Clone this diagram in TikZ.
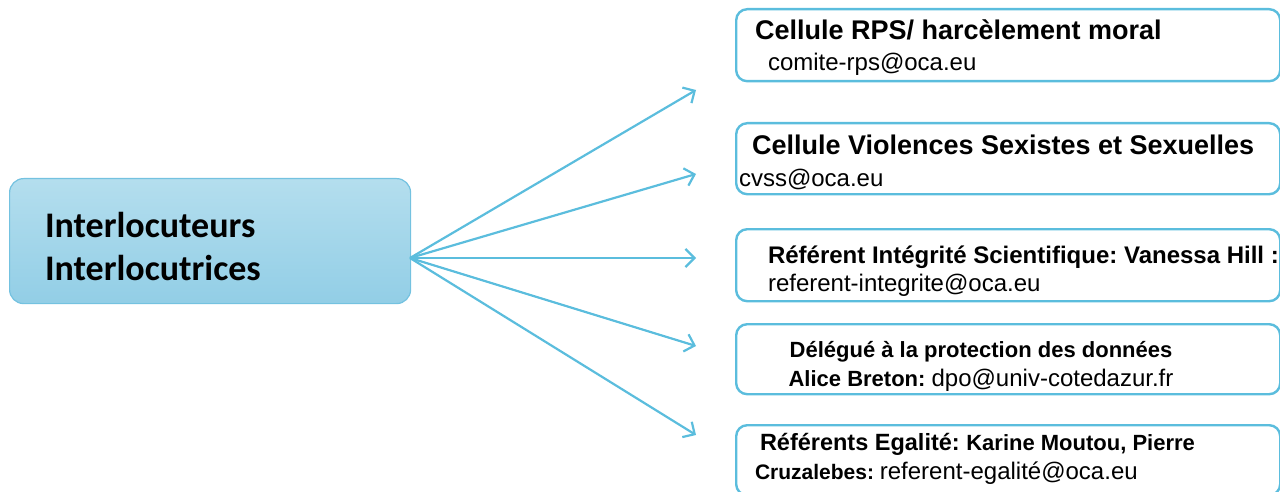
\documentclass[tikz,border=0pt]{standalone}
\usepackage{fontspec}
\setmainfont{Liberation Sans}
\newfontfamily\carlito{Carlito}
\usetikzlibrary{arrows.meta}
\definecolor{lineblue}{HTML}{5BBDDD}
\definecolor{boxtop}{HTML}{B4DEEE}
\definecolor{boxbot}{HTML}{92CEE6}
\definecolor{boxedge}{HTML}{74C2E0}
\newcommand{\fs}[1]{\fontsize{#1}{#1}\selectfont}
\frenchspacing
\tikzset{
  mainbox/.style={draw=boxedge, line width=1.2pt, rounded corners=14pt, top color=boxtop, bottom color=boxbot, anchor=north west, inner sep=0pt},
  rbox/.style={draw=lineblue, line width=2.4pt, rounded corners=11pt, anchor=north west, inner sep=0pt, minimum width=544pt},
  txt/.style={anchor=base west, inner sep=0pt, outer sep=0pt},
  ctxt/.style={anchor=base, inner sep=0pt, outer sep=0pt},
  conn/.style={draw=lineblue, line width=2.2pt, -{Straight Barb[length=9pt,width=18pt,line width=2.2pt]}}
}
\begin{document}
\begin{tikzpicture}[x=1pt,y=-1pt]
\useasboundingbox (0,0) rectangle (1280,492);
\clip (0,0) rectangle (1280,492);
% main box
\node[mainbox, minimum width=401pt, minimum height=125pt] (main) at (9,178) {};
\node[txt, font=\carlito\bfseries\fs{36}] (m1) at (45,237) {Interlocuteurs};
\node[txt, font=\carlito\bfseries\fs{36}] (m2) at (45,280) {Interlocutrices};
% right boxes
\node[rbox, minimum height=72pt] (b1) at (735,8) {};
\node[rbox, minimum height=71pt] (b2) at (735,122) {};
\node[rbox, minimum height=72pt] (b3) at (735,228) {};
\node[rbox, minimum height=70pt] (b4) at (735,323) {};
\node[rbox, minimum height=70pt] (b5) at (735,424) {};
% texts
\node[txt, font=\bfseries\fs{27}] (t1a) at (755,40) {Cellule RPS/ harcèlement moral};
\node[txt, font=\fs{24}] (t1b) at (768,71) {comite-rps@oca.eu};
\node[txt, font=\bfseries\fs{27}] (t2a) at (752,155) {Cellule Violences Sexistes et Sexuelles};
\node[txt, font=\fs{24}] (t2b) at (739,186) {cvss@oca.eu};
\node[txt, font=\bfseries\fs{24}] (t3a) at (768,263) {Référent Intégrité Scientifique: Vanessa Hill :};
\node[txt, font=\fs{24}] (t3b) at (768,291) {referent-integrite@oca.eu};
\node[ctxt, font=\bfseries\fs{22}] (t4a) at (981,357) {Délégué à la protection des données};
\node[ctxt] (t4b) at (981,386) {{\bfseries\fs{22}Alice Breton: }{\fs{24}dpo@univ-cotedazur.fr}};
\node[txt] (t5a) at (760,450) {{\bfseries\fs{23.5}Référents Egalité: }{\bfseries\fs{22}Karine Moutou, Pierre}};
\node[txt] (t5b) at (755,479) {{\bfseries\fs{21}Cruzalebes: }{\fs{24}referent-egalité@oca.eu}};
% connectors
\coordinate (src) at (410,258);
\coordinate (e1) at (696,90);
\coordinate (e2) at (696,174);
\coordinate (e3) at (696,258);
\coordinate (e4) at (696,346);
\coordinate (e5) at (696,435);
\foreach \e in {e1,e2,e3,e4,e5} \draw[conn] (src) -- (\e);
\end{tikzpicture}
\end{document}
